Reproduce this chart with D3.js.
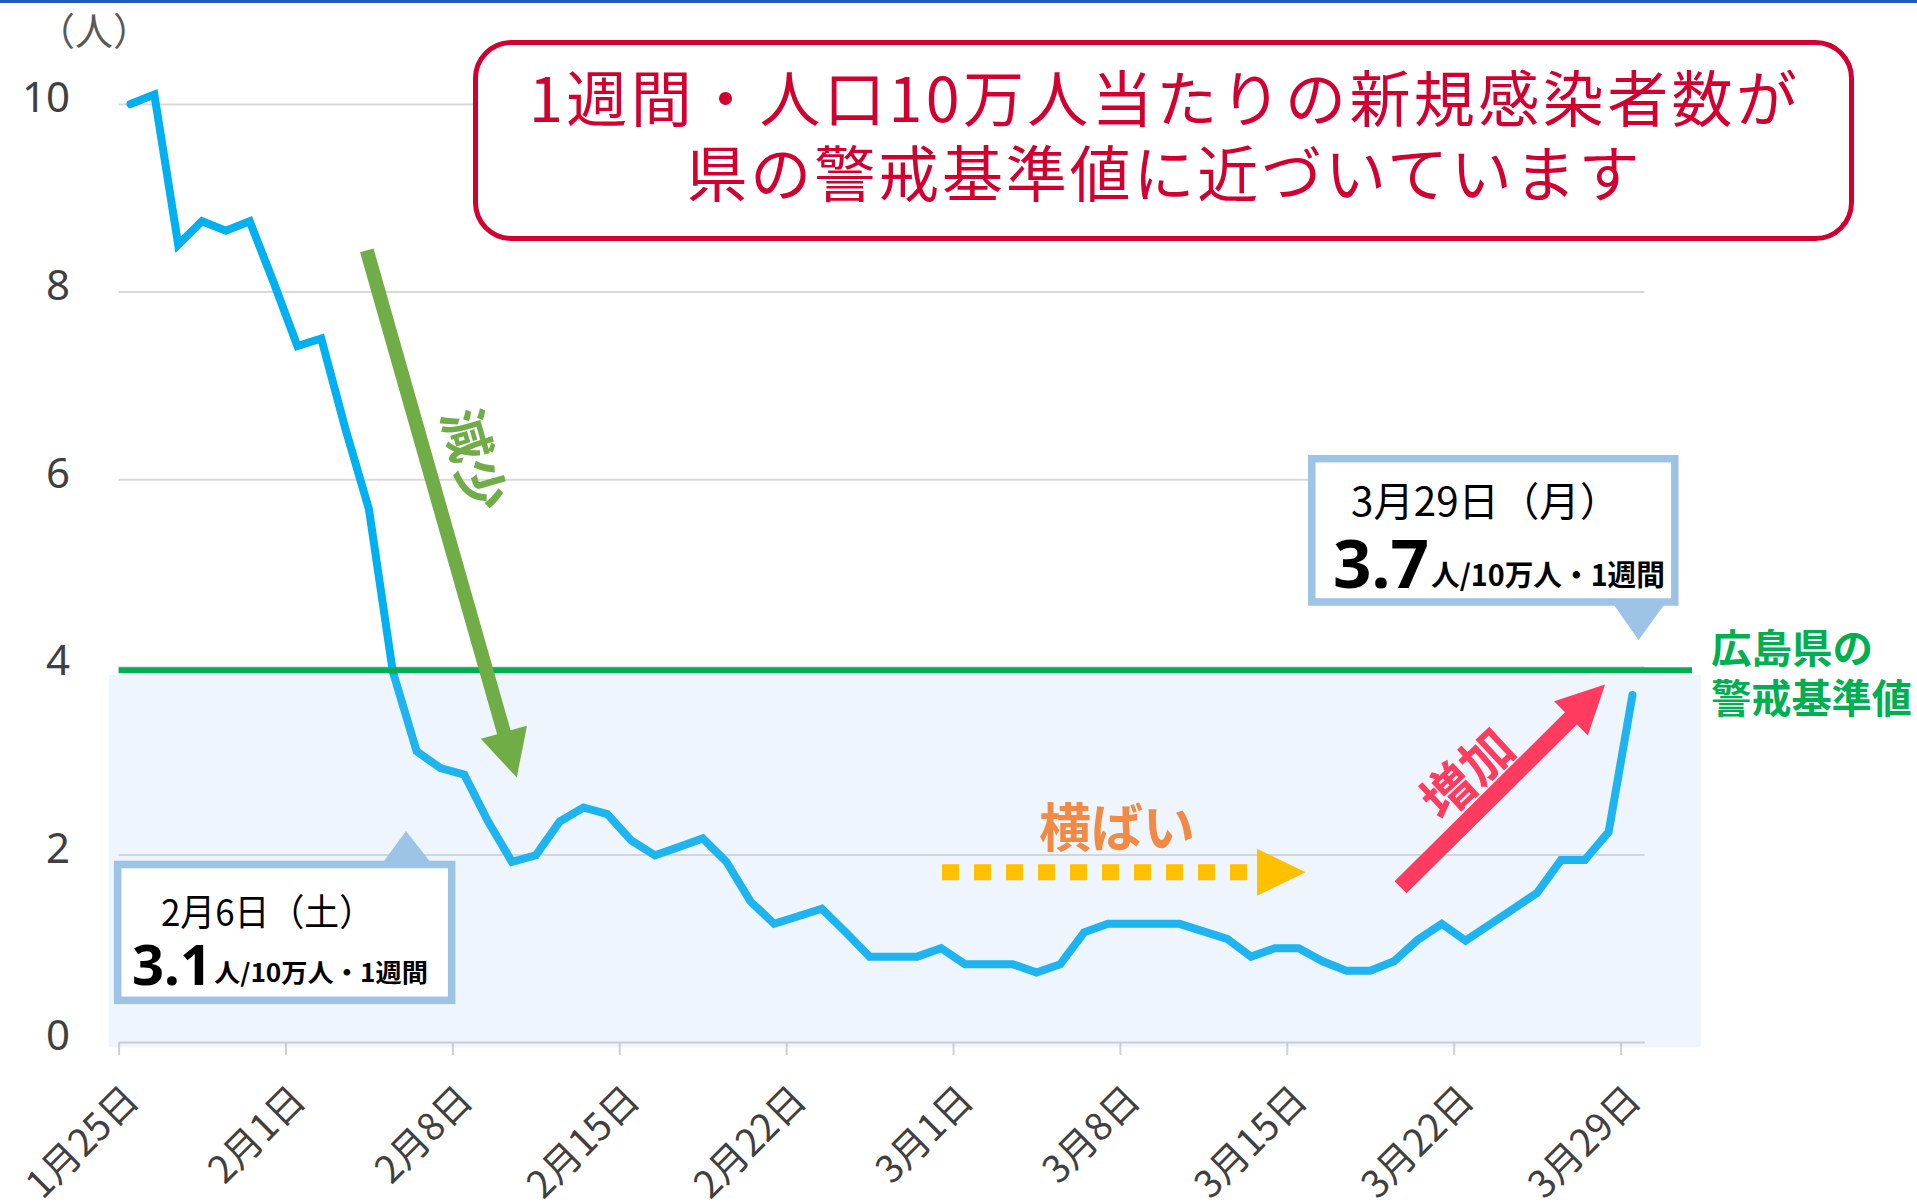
<!DOCTYPE html>
<html>
<head>
<meta charset="utf-8">
<script src="https://cdn.jsdelivr.net/npm/d3@7"></script>
<style>
  body { margin: 0; background: #fff; }
  text { font-family: "Noto Sans CJK JP", "Noto Sans", sans-serif; }
</style>
</head>
<body>
<svg id="chart" width="1917" height="1203"></svg>
<script>
// 1週間・人口10万人当たりの新規感染者数（1/25 から 3/29 まで毎日）
var startDate = "2021-01-25";
var rates = [10.0, 10.1, 8.5, 8.75, 8.65, 8.75, 8.1, 7.42, 7.5, 6.55,
    5.68, 3.95, 3.1, 2.92, 2.85, 2.35, 1.92, 1.99, 2.35, 2.5,
    2.43, 2.15, 1.99, 2.08, 2.17, 1.92, 1.5, 1.26, 1.34, 1.42,
    1.17, 0.91, 0.91, 0.91, 1.0, 0.83, 0.83, 0.83, 0.74, 0.83,
    1.17, 1.26, 1.26, 1.26, 1.26, 1.18, 1.1, 0.91, 1.0, 1.0,
    0.86, 0.76, 0.76, 0.86, 1.09, 1.26, 1.08, 1.25, 1.42, 1.59,
    1.94, 1.94, 2.24, 3.7];
var endDate = "2021-03-30";

var tickDates = ["2021-01-25", "2021-02-01", "2021-02-08", "2021-02-15", "2021-02-22",
    "2021-03-01", "2021-03-08", "2021-03-15", "2021-03-22", "2021-03-29"];
var tickLabels = ["1月25日", "2月1日", "2月8日", "2月15日", "2月22日",
    "3月1日", "3月8日", "3月15日", "3月22日", "3月29日"];
var yTicks = [0, 2, 4, 6, 8, 10];
var yUnit = "（人）";

var alertLevel = 4;
var alertLabel = ["広島県の", "警戒基準値"];

var titleLines = ["1週間・人口10万人当たりの新規感染者数が", "県の警戒基準値に近づいています"];
var calloutDays = ["2月6日（土）", "3月29日（月）"];
var calloutValues = ["3.1", "3.7"];
var calloutUnit = "人/10万人・1週間";
var trendLabels = ["減少", "横ばい", "増加"];

var parse = d3.timeParse("%Y-%m-%d");
var start = parse(startDate);

var series = rates.map(function (v, i) {
    return { date: d3.timeHour.offset(d3.timeDay.offset(start, i), 12), value: v };
});

var svg = d3.select("#chart");

var x = d3.scaleTime()
    .domain([start, parse(endDate)])
    .range([118.6, 1644.4]);

var y = d3.scaleLinear()
    .domain([0, 10])
    .range([1042, 104]);

// 日数・値からピクセル位置へ
function at(days, v) {
    return [x(new Date(start.getTime() + days * 864e5)), y(v)];
}

// top blue rule
svg.append("rect")
    .attr("x", 0).attr("y", 0)
    .attr("width", 1917).attr("height", 3)
    .attr("fill", "#1F5CB8");

// y grid + labels
var yAxis = svg.append("g")
    .attr("transform", "translate(" + x.range()[0] + ",0)")
    .call(d3.axisLeft(y)
        .tickValues(yTicks)
        .tickSize(-(x.range()[1] - x.range()[0]))
        .tickPadding(48.6));
yAxis.select(".domain").remove();
yAxis.selectAll(".tick line")
    .attr("stroke", "#D9D9D9")
    .attr("stroke-width", 2)
    .attr("opacity", function (d) { return d === 0 ? 0 : 1; });
yAxis.selectAll(".tick text")
    .attr("dy", "0.19em")
    .attr("fill", "#404040")
    .style("font-size", "42px")
    .style("font-family", "'Noto Sans', 'Noto Sans CJK JP', sans-serif");

svg.append("text")
    .attr("x", 94).attr("y", 45)
    .attr("text-anchor", "middle")
    .attr("fill", "#595959")
    .style("font-size", "38px")
    .text(yUnit);

// x axis
var xAxis = svg.append("g")
    .attr("transform", "translate(0," + y(0) + ")")
    .call(d3.axisBottom(x)
        .tickValues(tickDates.map(parse))
        .tickFormat(function (d, i) { return tickLabels[i]; })
        .tickSize(13)
        .tickSizeOuter(0));
xAxis.select(".domain")
    .attr("stroke", "#D0D0D0")
    .attr("stroke-width", 2);
xAxis.selectAll(".tick line")
    .attr("stroke", "#D0D0D0")
    .attr("stroke-width", 2);
xAxis.selectAll(".tick text")
    .attr("x", 0).attr("y", 0).attr("dy", 0)
    .attr("text-anchor", "end")
    .attr("transform", "translate(22,60) rotate(-45)")
    .attr("fill", "#404040")
    .style("font-size", "38px")
    .style("font-family", "'Noto Sans CJK JP', sans-serif");

// data line
var line = d3.line()
    .x(function (d) { return x(d.date); })
    .y(function (d) { return y(d.value); });

svg.append("path")
    .datum(series)
    .attr("d", line)
    .attr("fill", "none")
    .attr("stroke", "#00B0F0")
    .attr("stroke-width", 8)
    .attr("stroke-linejoin", "miter")
    .attr("stroke-linecap", "round");

// 警戒基準値以下の帯
svg.append("rect")
    .attr("x", 109)
    .attr("y", y(alertLevel) + 8)
    .attr("width", 1592)
    .attr("height", y(0) - y(alertLevel) - 3)
    .attr("fill", "rgb(158,198,240)")
    .attr("fill-opacity", 0.18);

// 警戒基準値ライン
svg.append("line")
    .attr("x1", x.range()[0]).attr("x2", 1692)
    .attr("y1", y(alertLevel) + 3.5).attr("y2", y(alertLevel) + 3.5)
    .attr("stroke", "#00B050")
    .attr("stroke-width", 6);

svg.selectAll(".alert-label")
    .data(alertLabel)
    .enter().append("text")
    .attr("class", "alert-label")
    .attr("x", 1711)
    .attr("y", function (d, i) { return 646 + i * 50; })
    .attr("dominant-baseline", "central")
    .attr("textLength", function (d, i) { return i === 0 ? 162 : 201; })
    .attr("lengthAdjust", "spacingAndGlyphs")
    .attr("fill", "#00B050")
    .style("font-size", "40px")
    .style("font-weight", "bold")
    .text(function (d) { return d; });

// arrows
function arrowPath(p1, p2, shaft, headW, headL) {
    var dx = p2[0] - p1[0], dy = p2[1] - p1[1];
    var len = Math.sqrt(dx * dx + dy * dy);
    var ux = dx / len, uy = dy / len, px = -uy, py = ux;
    var bx = p2[0] - ux * headL, by = p2[1] - uy * headL;
    var pts = [
        [p1[0] + px * shaft / 2, p1[1] + py * shaft / 2],
        [bx + px * shaft / 2, by + py * shaft / 2],
        [bx + px * headW / 2, by + py * headW / 2],
        p2,
        [bx - px * headW / 2, by - py * headW / 2],
        [bx - px * shaft / 2, by - py * shaft / 2],
        [p1[0] - px * shaft / 2, p1[1] - py * shaft / 2]
    ];
    return "M" + pts.join("L") + "Z";
}

svg.append("path")
    .attr("d", arrowPath(at(10.41, 8.44), at(16.70, 2.82), 14, 48, 47))
    .attr("fill", "#70AD47");

svg.append("text")
    .attr("transform", "translate(477,459) rotate(74)")
    .attr("text-anchor", "middle")
    .attr("dominant-baseline", "central")
    .attr("fill", "#70AD47")
    .style("font-size", "52px")
    .style("font-weight", "bold")
    .text(trendLabels[0]);

// 横ばい: dotted arrow
var flatY = at(0, 1.81)[1];
var dots = d3.range(10);
svg.selectAll(".flat-dot")
    .data(dots)
    .enter().append("rect")
    .attr("class", "flat-dot")
    .attr("x", function (d) { return 942 + d * 32; })
    .attr("y", flatY - 8)
    .attr("width", 17)
    .attr("height", 16)
    .attr("fill", "#FFC000");
svg.append("path")
    .attr("d", "M1257," + (flatY - 23.5) + "L1305.6," + flatY + "L1257," + (flatY + 23.5) + "Z")
    .attr("fill", "#FFC000");

svg.append("text")
    .attr("x", 1117).attr("y", 824)
    .attr("text-anchor", "middle")
    .attr("dominant-baseline", "central")
    .attr("fill", "#F08A44")
    .style("font-size", "52px")
    .style("font-weight", "bold")
    .text(trendLabels[1]);

svg.append("path")
    .attr("d", arrowPath(at(53.77, 1.65), at(62.35, 3.81), 17, 48, 48))
    .attr("fill", "#FF3B5F");

svg.append("text")
    .attr("transform", "translate(1465,771) rotate(-43)")
    .attr("text-anchor", "middle")
    .attr("dominant-baseline", "central")
    .attr("fill", "#FF3B5F")
    .style("font-size", "52px")
    .style("font-weight", "bold")
    .text(trendLabels[2]);

// title box
svg.append("rect")
    .attr("x", 475.5).attr("y", 42.5)
    .attr("width", 1376).attr("height", 196)
    .attr("rx", 36).attr("ry", 36)
    .attr("fill", "#fff")
    .attr("stroke", "#D20030")
    .attr("stroke-width", 5);

svg.selectAll(".title")
    .data(titleLines)
    .enter().append("text")
    .attr("class", "title")
    .attr("x", 1163)
    .attr("y", function (d, i) { return 95 + i * 75; })
    .attr("text-anchor", "middle")
    .attr("dominant-baseline", "central")
    .attr("textLength", function (d, i) { return i === 0 ? 1268 : 953; })
    .attr("lengthAdjust", "spacing")
    .attr("fill", "#D20030")
    .style("font-size", "61px")
    .text(function (d) { return d; });

// callouts
var callouts = [
    { box: [117.7, 864.5, 334, 135.8], tri: [[384, 861], [429.5, 861], [406, 831]],
      day: [161, 926, 37, 213], num: [132, 985, 56, 80], unit: [214, 982, 25, 214] },
    { box: [1311.8, 458.7, 363, 143.3], tri: [[1614, 605], [1664, 605], [1638.6, 640]],
      day: [1351, 516, 40, 269], num: [1333, 588, 66, 96], unit: [1431, 586, 29, 234] }
];

callouts.forEach(function (c, i) {
    var g = svg.append("g");
    g.append("path")
        .attr("d", "M" + c.tri.join("L") + "Z")
        .attr("fill", "#9DC3E6");
    g.append("rect")
        .attr("x", c.box[0]).attr("y", c.box[1])
        .attr("width", c.box[2]).attr("height", c.box[3])
        .attr("fill", "#fff")
        .attr("stroke", "#9DC3E6")
        .attr("stroke-width", 7.5);
    g.append("text")
        .attr("x", c.day[0]).attr("y", c.day[1])
        .attr("textLength", c.day[3])
        .attr("lengthAdjust", "spacingAndGlyphs")
        .attr("fill", "#000")
        .style("font-size", c.day[2] + "px")
        .text(calloutDays[i]);
    g.append("text")
        .attr("x", c.num[0]).attr("y", c.num[1])
        .attr("textLength", c.num[3])
        .attr("lengthAdjust", "spacingAndGlyphs")
        .attr("fill", "#000")
        .style("font-size", c.num[2] + "px")
        .style("font-weight", "bold")
        .style("font-family", "'Noto Sans', sans-serif")
        .text(calloutValues[i]);
    g.append("text")
        .attr("x", c.unit[0]).attr("y", c.unit[1])
        .attr("textLength", c.unit[3])
        .attr("lengthAdjust", "spacingAndGlyphs")
        .attr("fill", "#000")
        .style("font-size", c.unit[2] + "px")
        .style("font-weight", "bold")
        .text(calloutUnit);
});
</script>
</body>
</html>
